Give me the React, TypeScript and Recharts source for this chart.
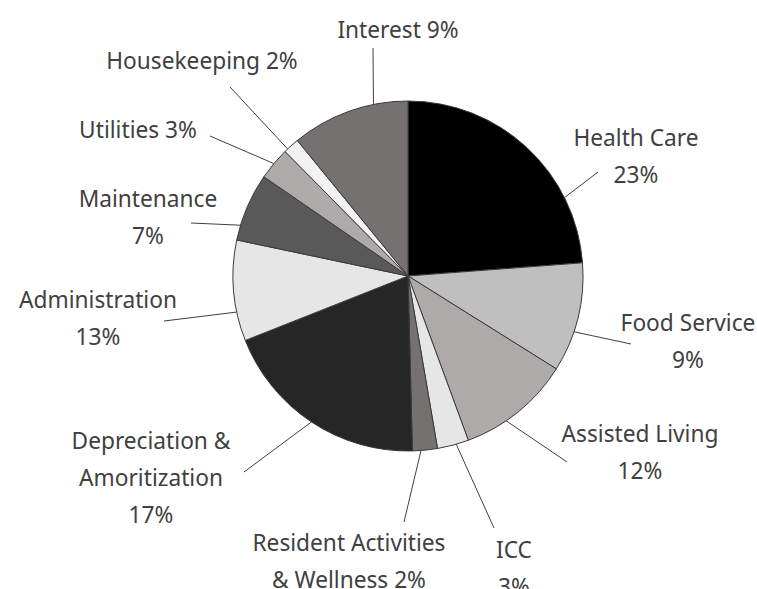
import { PieChart, Pie, Cell } from 'recharts'

// slice shares as drawn (the printed % labels don't quite match the wedges)
const categories = [
  'Health Care',
  'Food Service',
  'Assisted Living',
  'ICC',
  'Resident Activities & Wellness',
  'Depreciation & Amoritization',
  'Administration',
  'Maintenance',
  'Utilities',
  'Housekeeping',
  'Interest'
]
const shares = [23.8, 10.1, 10.5, 2.9, 2.3, 19.4, 9.3, 6.3, 3.0, 1.5, 10.9]
const labelLines = [
  ['Health Care', '23%'],
  ['Food Service', '9%'],
  ['Assisted Living', '12%'],
  ['ICC', '3%'],
  ['Resident Activities', '& Wellness 2%'],
  ['Depreciation &', 'Amoritization', '17%'],
  ['Administration', '13%'],
  ['Maintenance', '7%'],
  ['Utilities 3%'],
  ['Housekeeping 2%'],
  ['Interest 9%']
]
const colors = [
  '#000000', '#bfbfbf', '#aeaaaa', '#e7e6e6', '#767171', '#262626',
  '#e7e6e6', '#595959', '#aeaaaa', '#f2f2f2', '#767171'
]

// label placement relative to pie centre: text centre x / first baseline y,
// leader line outer end, and where along the wedge edge the line attaches (0..1)
const labelLayout = [
  { tx: 228, ty: -130, lx: 190, ly: -104, t: 0.74 },
  { tx: 280, ty: 55, lx: 223, ly: 68, t: 0.63 },
  { tx: 232, ty: 166, lx: 159, ly: 186, t: 0.63 },
  { tx: 106, ty: 282, lx: 86, ly: 252, t: 0.4 },
  { tx: -59, ty: 275, lx: -4, ly: 246, t: 0.66 },
  { tx: -257, ty: 173, lx: -164, ly: 196, t: 0.5 },
  { tx: -310, ty: 32, lx: -244, ly: 45, t: 0.29 },
  { tx: -260, ty: -69, lx: -217, ly: -53, t: 0.22 },
  { tx: -270, ty: -138, lx: -198, ly: -140, t: 0.5 },
  { tx: -206, ty: -207, lx: -178, ly: -189, t: 0.22 },
  { tx: -10, ty: -238, lx: -35, ly: -228, t: 0.71 }
]

const data = categories.map((name, i) => ({ name, value: shares[i] }))
const RAD = Math.PI / 180

function renderLabel(props: any) {
  const { cx, cy, outerRadius, startAngle, endAngle, index } = props
  const lay = labelLayout[index]
  const a = startAngle + lay.t * (endAngle - startAngle)
  const x0 = cx + Math.cos(-a * RAD) * outerRadius
  const y0 = cy + Math.sin(-a * RAD) * outerRadius
  return (
    <g key={`lbl-${index}`}>
      <line x1={x0} y1={y0} x2={cx + lay.lx} y2={cy + lay.ly} stroke="#404040" strokeWidth={1} />
      <text
        x={cx + lay.tx}
        y={cy + lay.ty}
        textAnchor="middle"
        fill="#404040"
        fontSize={22.7}
        fontFamily="'Noto Sans', sans-serif"
      >
        {labelLines[index].map((ln, j) => (
          <tspan key={j} x={cx + lay.tx} dy={j === 0 ? 0 : 37}>
            {ln}
          </tspan>
        ))}
      </text>
    </g>
  )
}

export default function App() {
  return (
    <div style={{ position: 'absolute', left: 0, top: 0, width: 757, height: 589, background: '#fff', overflow: 'hidden' }}>
      <PieChart width={757} height={589}>
        <Pie
          data={data}
          dataKey="value"
          nameKey="name"
          cx={403}
          cy={271}
          outerRadius={175}
          startAngle={90}
          endAngle={-270}
          stroke="#3a3a3a"
          strokeWidth={1}
          label={renderLabel}
          labelLine={false}
          isAnimationActive={false}
        >
          {data.map((d, i) => (
            <Cell key={d.name} fill={colors[i]} />
          ))}
        </Pie>
      </PieChart>
    </div>
  )
}
